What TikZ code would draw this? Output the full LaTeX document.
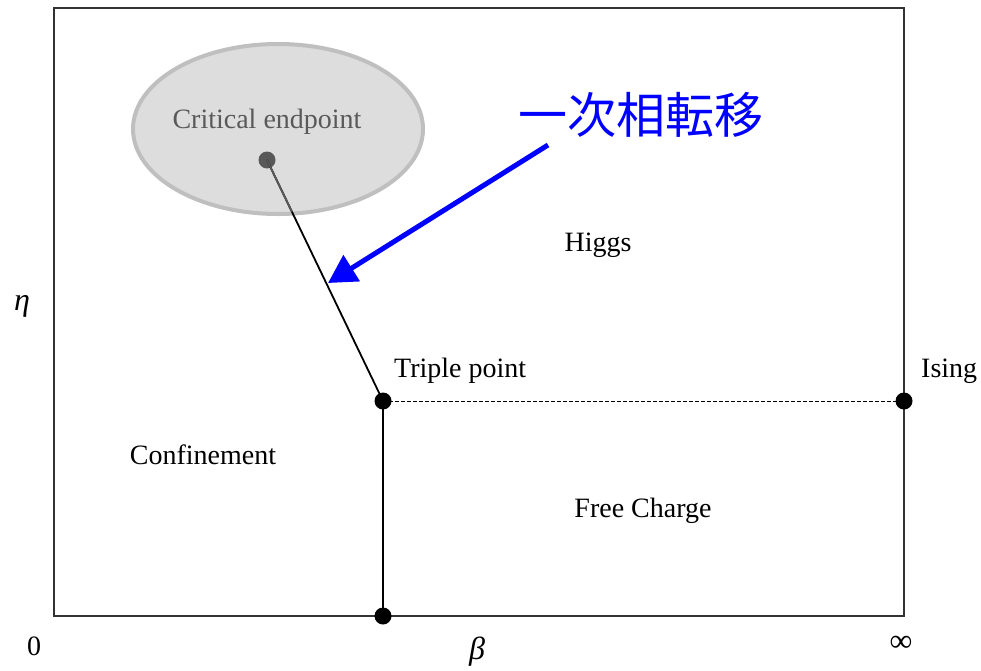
\documentclass[tikz,border=0pt]{standalone}
\usepackage{fontspec}
\setmainfont{Liberation Serif}
\newfontfamily\cjk{Noto Sans CJK JP}
\usetikzlibrary{shapes.geometric,arrows.meta}
\definecolor{ellfill}{HTML}{DDDDDD}
\definecolor{elldraw}{HTML}{BFBFBF}
\definecolor{cepgray}{HTML}{595959}
\definecolor{frame}{HTML}{333333}
\tikzset{
  lbl/.style={font=\fontsize{28}{32}\selectfont, inner sep=0pt},
  dot/.style={circle, fill=black, minimum size=17pt, inner sep=0pt},
  gdot/.style={circle, fill=cepgray, minimum size=17pt, inner sep=0pt},
  sym/.style={font=\fontsize{32}{36}\selectfont\itshape, inner sep=0pt},
}
\begin{document}
\begin{tikzpicture}[x=1pt,y=1pt]
\useasboundingbox (0,0) rectangle (981,-670);
% frame
\draw[frame, line width=1.5pt] (54,-8) rectangle (904,-616);
% ellipse
\node[ellipse, draw=elldraw, fill=ellfill, line width=4pt, minimum width=290pt, minimum height=170pt, inner sep=0pt] (ell) at (278,-129) {};
\node[lbl, text=cepgray] (cep) at (267,-122) {Critical endpoint};
% points
\node[gdot] (ce) at (267,-160) {};
\node[dot] (tp) at (383,-401) {};
\node[dot] (is) at (904,-401) {};
\node[dot] (bt) at (383,-616) {};
% lines
\draw[black, line width=1.8pt] (ce.center) -- (tp.center);
\begin{scope}
  \clip (278,-129) ellipse [x radius=143, y radius=83];
  \draw[cepgray, line width=1.8pt] (ce.center) -- (tp.center);
\end{scope}
\draw[black, line width=1pt, dashed, dash pattern=on 4pt off 2pt] (tp.center) -- (is.center);
\draw[black, line width=2pt] (tp.center) -- (bt.center);
% labels
\node[lbl] (higgs) at (598,-245) {Higgs};
\node[lbl, anchor=west] (tpl) at (394,-371) {Triple point};
\node[lbl, anchor=west] (isl) at (921,-371) {Ising};
\node[lbl] (conf) at (203,-455) {Confinement};
\node[lbl] (free) at (643,-511) {Free Charge};
\node[lbl] (zero) at (34,-646) {0};
\node[sym] (beta) at (477,-652) {β};
\node[lbl, font=\fontsize{32}{36}\selectfont] (inf) at (901,-644) {∞};
\node[sym] (eta) at (22,-306) {η};
% first-order transition
\node[inner sep=0pt, text=blue, font=\cjk\fontsize{49}{52}\selectfont] (fo) at (641,-115) {一次相転移};
\coordinate (as) at (548,-145);
\coordinate (ae) at (328,-283);
\draw[blue, line width=5pt, -{Triangle[length=28pt,width=30pt]}] (as) -- (ae);
\end{tikzpicture}
\end{document}
